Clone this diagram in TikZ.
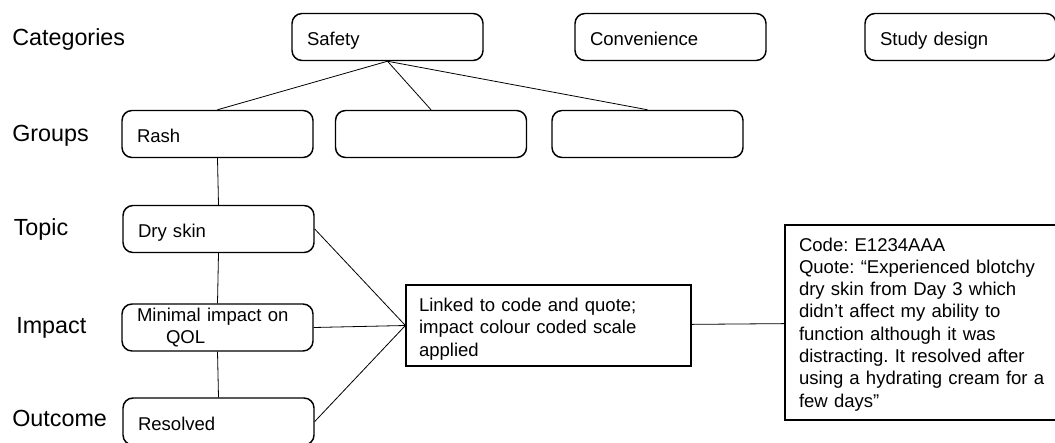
\documentclass[tikz,border=0pt]{standalone}
\usepackage{fontspec}
\setmainfont{Liberation Sans}
\frenchspacing

\begin{document}
\begin{tikzpicture}[x=0.75pt, y=-0.75pt,
  lvl/.style={anchor=base west, inner sep=0pt, font=\fontsize{17.5}{21}\selectfont},
  rbox/.style={draw, line width=1.1pt, rounded corners=7.5pt, minimum width=143.25pt,
    minimum height=35.25pt, inner xsep=11.25pt, inner ysep=0pt, text width=120.75pt,
    align=left, font=\fontsize{13.9}{16.7}\selectfont},
  oneline/.style={text height=13.6pt, text depth=0.5pt},
  sqbox/.style={draw, line width=0.9pt, inner ysep=0pt, align=left,
    font=\fontsize{13.9}{16.7}\selectfont},
  conn/.style={line width=0.6pt}]

  \useasboundingbox (0,0) rectangle (1055,442);
  \clip (0,0) rectangle (1055,442);

  % row labels
  \foreach \x/\y/\l [count=\i] in {12/45.6/Categories, 12/141.3/Groups, 13.5/235/Topic,
      16/333.6/Impact, 12/426/Outcome} {
    \node[lvl] (lvl\i) at (\x,\y) {\l};
  }

  % categories
  \node[rbox, oneline] (safety) at (387.5,37) {Safety};
  \node[rbox, oneline] (convenience) at (670.5,37) {Convenience};
  \node[rbox, oneline] (studydesign) at (960.5,37) {Study design};

  % groups
  \node[rbox, oneline] (rash) at (217.5,134) {Rash};
  \node[rbox, oneline] (grpB) at (431,134) {};
  \node[rbox, oneline] (grpC) at (647.5,134) {};

  % topic, impact, outcome
  \node[rbox, oneline] (dryskin) at (218.5,229) {Dry skin};
  \node[rbox] (minimal) at (217.5,327.5) {Minimal impact on\\\hspace*{21.75pt}QOL};
  \node[rbox, oneline] (resolved) at (218.5,421.5) {Resolved};

  \node[sqbox, minimum width=213.75pt, minimum height=60.75pt, inner xsep=9.75pt,
    text width=194.25pt] (linked) at (548.5,325.5)
    {\rule{0pt}{15.4pt}Linked to code and quote;\\impact colour coded scale\\applied};

  \node[sqbox, minimum width=210pt, minimum height=146.25pt, inner xsep=10.5pt,
    text width=189pt] (code) at (925,322.5)
    {\rule{0pt}{12.75pt}Code: E1234AAA\\Quote: “Experienced blotchy\\dry skin from Day 3 which\\didn’t affect my ability to\\function although it was\\distracting. It resolved after\\using a hydrating cream for a\\few days”};

  % connectors
  \foreach \g in {rash, grpB, grpC}
    \draw[conn] (safety.south) -- (\g.north);
  \draw[conn] (rash.south) -- (dryskin.north);
  \draw[conn] (dryskin.south) -- (minimal.north);
  \draw[conn] (minimal.south) -- (resolved.north);
  \foreach \n in {dryskin, minimal, resolved}
    \draw[conn] (\n.east) -- (linked.west);
  \draw[conn] (linked) -- (code);

\end{tikzpicture}
\end{document}
